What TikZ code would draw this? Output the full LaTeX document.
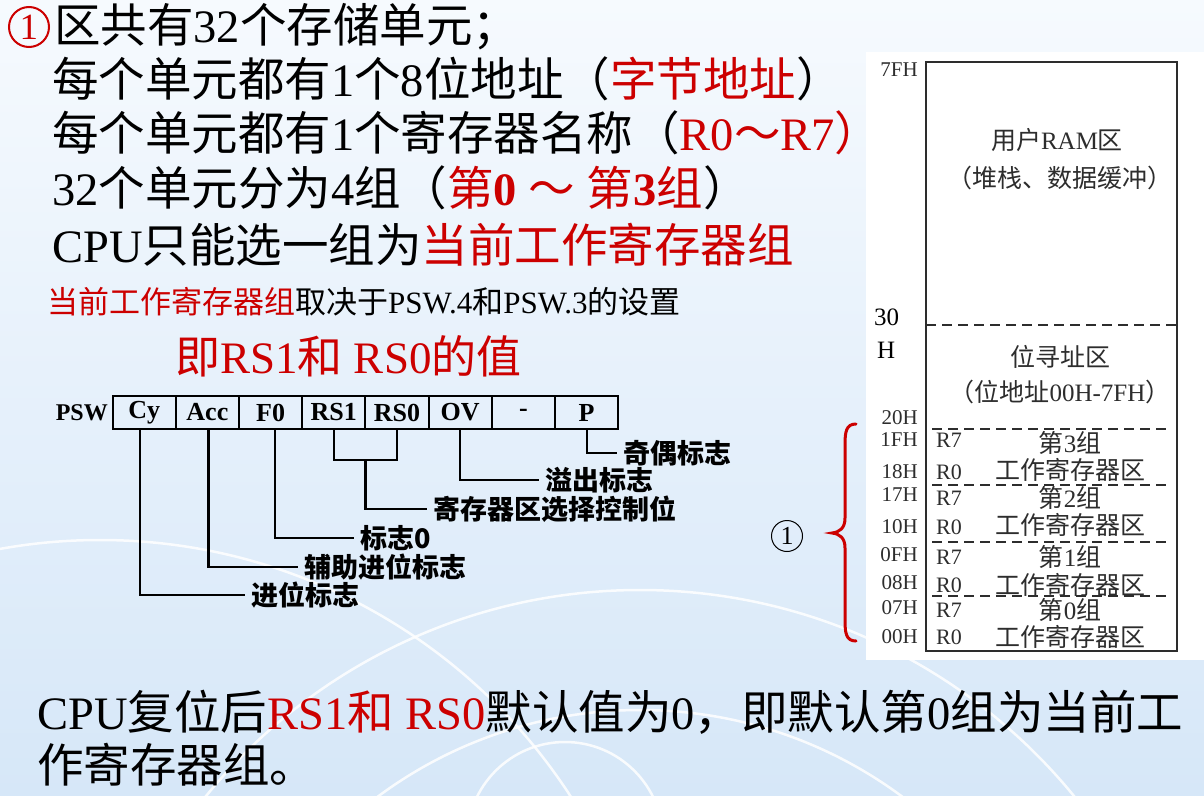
\documentclass[tikz,border=0pt]{standalone}
\usepackage{fontspec}
\setmainfont{Liberation Serif}
\newfontfamily\zhf{Noto Sans CJK SC}
\newcommand\zh[1]{{\zhf #1}}
\definecolor{hl}{RGB}{204,0,0}
\definecolor{scan}{RGB}{45,45,45}
\definecolor{bgtop}{RGB}{246,250,254}
\definecolor{bgbot}{RGB}{214,231,248}
\begin{document}
\begin{tikzpicture}[x=1pt,y=-1pt,
  main/.style={anchor=base west, inner sep=0, font=\fontsize{46.5}{50}\selectfont},
  cell/.style={draw, line width=2pt, minimum width=63.2pt, minimum height=33pt, inner sep=0, outer sep=0, font=\fontsize{26}{26}\selectfont\bfseries},
  lead/.style={line width=2.2pt},
  lbl/.style={anchor=west, inner xsep=6pt, inner ysep=0, font=\fontsize{27}{27}\selectfont\zhf\bfseries},
  addr/.style={anchor=east, inner sep=0, text=scan, font=\fontsize{21}{21}\selectfont},
  reg/.style={anchor=west, inner sep=0, text=scan, font=\fontsize{22}{22}\selectfont},
  grp/.style={inner sep=0, text=scan, font=\fontsize{25}{25}\selectfont\zhf},
  mapline/.style={draw=scan, line width=2.4pt},
  dashline/.style={draw=scan, line width=2.4pt, dash pattern=on 10pt off 6pt},
  arcline/.style={draw=white, line width=2.5pt, opacity=0.85}
]
\useasboundingbox (0,0) rectangle (1204,795);
% background
\shade[top color=bgtop, bottom color=bgbot] (0,0) rectangle (1204,795);
\begin{scope}
\clip (0,0) rectangle (1204,795);
\draw[arcline] (640,1150) circle[radius=560];
\draw[arcline] (640,1150) circle[radius=440];
\draw[arcline] (565,840) circle[radius=98];
\draw[arcline] (100,1100) circle[radius=560];
\end{scope}
\fill[white] (866,52) rectangle (1204,660);

% ---------- top text ----------
\node[draw=hl, text=hl, circle, line width=2pt, minimum size=40pt, inner sep=0,
      font=\fontsize{37}{37}\selectfont] (n1) at (29,27) {1};
\node[main] (t1) at (54,42) {\zh{区共有}32\zh{个存储单元；}};
\node[main] (t2) at (52,96) {\zh{每个单元都有}1\zh{个}8\zh{位地址（}\textcolor{hl}{\zh{字节地址}}\zh{）}};
\node[main] (t3) at (52,150) {\zh{每个单元都有}1\zh{个寄存器名称（}\textcolor{hl}{R0\zh{～}R7\zh{）}}};
\node[main] (t4) at (52,205) {32\zh{个单元分为}4\zh{组（}\textcolor{hl}{\zh{第}\textbf{0} \zh{～} \zh{第}\textbf{3}\zh{组}}\zh{）}};
\node[main] (t5) at (52,262) {CPU\zh{只能选一组为}\textcolor{hl}{\zh{当前工作寄存器组}}};
\node[anchor=base west, inner sep=0, font=\fontsize{31}{33}\selectfont] (t6) at (47,313)
  {\textcolor{hl}{\zh{当前工作寄存器组}}\zh{取决于}PSW.4\zh{和}PSW.3\zh{的设置}};
\node[anchor=base west, inner sep=0, text=hl, font=\fontsize{45}{48}\selectfont] (t7) at (175,373) {\zh{即}RS1\zh{和} RS0\zh{的值}};

% ---------- PSW ----------
\node[anchor=east, inner sep=0, font=\fontsize{24}{24}\selectfont\bfseries] (psw) at (108,413) {PSW};
\foreach \t [count=\i] in {Cy,Acc,F0,RS1,RS0,OV,-,P}
  \node[cell] (c\i) at ({112.6+63.2*(\i-0.5)},412.5) {\t};

\node[lbl] (l1) at (245,595) {进位标志};
\node[lbl] (l2) at (298,567) {辅助进位标志};
\node[lbl] (l3) at (354,538) {标志0};
\node[lbl] (l4) at (427,509) {寄存器区选择控制位};
\node[lbl] (l5) at (539,480) {溢出标志};
\node[lbl] (l6) at (617,453) {奇偶标志};
\coordinate (j) at (365.5,460);

\draw[lead] ([xshift=-4pt]c1.south) |- (l1.west);
\draw[lead] ([xshift=1pt]c2.south) |- (l2.west);
\draw[lead] ([xshift=4pt]c3.south) |- (l3.west);
\draw[lead] (c4.south) |- (j) -| (c5.south);
\draw[lead] (j) |- (l4.west);
\draw[lead] (c6.south) |- (l5.west);
\draw[lead] (c8.south) |- (l6.west);

% ---------- memory map ----------
\draw[mapline] (926,62) rectangle (1177,651);
\draw[dashline] (926,325) -- (1177,325);
\foreach \y in {429,485,542,596} \draw[dashline] (932,\y) -- (1172,\y);

\node[grp] (u1) at (1057,140) {用户\fontspec{Liberation Serif}RAM\zhf 区};
\node[grp] (u2) at (1060,178) {（堆栈、数据缓冲）};
\node[grp] (b1) at (1060,357) {位寻址区};
\node[grp] (b2) at (1060,392) {（位地址\fontspec{Liberation Serif}00H-7FH\zhf ）};

\node[grp] (g3) at (1070,443) {第\fontspec{Liberation Serif}3\zhf 组};
\node[grp] (w3) at (1070,470) {工作寄存器区};
\node[grp] (g2) at (1070,498) {第\fontspec{Liberation Serif}2\zhf 组};
\node[grp] (w2) at (1070,525) {工作寄存器区};
\node[grp] (g1) at (1070,557) {第\fontspec{Liberation Serif}1\zhf 组};
\node[grp] (w1) at (1070,585) {工作寄存器区};
\node[grp] (g0) at (1070,610) {第\fontspec{Liberation Serif}0\zhf 组};
\node[grp] (w0) at (1070,637) {工作寄存器区};

\foreach \n/\y in {a7/440,a5/498,a3/557,a1/610} \node[reg] (\n) at (936,\y) {R7};
\foreach \n/\y in {a6/472,a4/527,a2/585,a0/637} \node[reg] (\n) at (936,\y) {R0};

\node[addr] (h7f) at (918,70) {7FH};
\node[anchor=west, inner sep=0, font=\fontsize{25}{25}\selectfont] (h30) at (874,317) {30};
\node[anchor=west, inner sep=0, font=\fontsize{25}{25}\selectfont] (h30b) at (877,350) {H};
\node[addr] (h20) at (918,418) {20H};
\node[addr] (h1f) at (918,440) {1FH};
\node[addr] (h18) at (918,472) {18H};
\node[addr] (h17) at (918,495) {17H};
\node[addr] (h10) at (918,527) {10H};
\node[addr] (h0f) at (918,555) {0FH};
\node[addr] (h08) at (918,583) {08H};
\node[addr] (h07) at (918,608) {07H};
\node[addr] (h00) at (918,637) {00H};

% red brace
\draw[hl, line width=3pt, line cap=round]
  (856,424) .. controls (846,424) and (845,432) .. (845,445) -- (845,518)
  .. controls (845,528) and (840,532) .. (832,533)
  .. controls (840,534) and (845,538) .. (845,548) -- (845,620)
  .. controls (845,633) and (846,641) .. (856,641);
\node[draw, circle, line width=1pt, minimum size=31pt, inner sep=0,
      font=\fontsize{26}{26}\selectfont] (n2) at (787,536) {1};

% ---------- bottom text ----------
\node[main] (b3) at (37,729) {CPU\zh{复位后}\textcolor{hl}{RS1\zh{和} RS0}\zh{默认值为}0\zh{，即默认第}0\zh{组为当前工}};
\node[main] (b4) at (37,782) {\zh{作寄存器组。}};
\end{tikzpicture}
\end{document}
